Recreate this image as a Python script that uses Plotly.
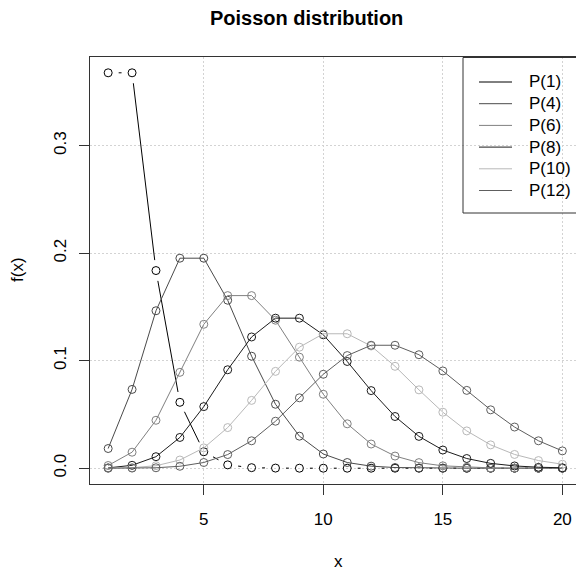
import math
import plotly.graph_objects as go

# ---------------- data ----------------
x_vals = list(range(1, 21))
series_names = ["P(1)", "P(4)", "P(6)", "P(8)", "P(10)", "P(12)"]
p1 = [0.3679, 0.3679, 0.1839, 0.0613, 0.0153, 0.0031, 0.0005, 0.0001, 0.0000, 0.0000,
      0.0000, 0.0000, 0.0000, 0.0000, 0.0000, 0.0000, 0.0000, 0.0000, 0.0000, 0.0000]
p4 = [0.0183, 0.0733, 0.1465, 0.1954, 0.1954, 0.1563, 0.1042, 0.0595, 0.0298, 0.0132,
      0.0053, 0.0019, 0.0006, 0.0002, 0.0001, 0.0000, 0.0000, 0.0000, 0.0000, 0.0000]
p6 = [0.0025, 0.0149, 0.0446, 0.0892, 0.1339, 0.1606, 0.1606, 0.1377, 0.1033, 0.0688,
      0.0413, 0.0225, 0.0113, 0.0052, 0.0022, 0.0009, 0.0003, 0.0001, 0.0000, 0.0000]
p8 = [0.0003, 0.0027, 0.0107, 0.0286, 0.0573, 0.0916, 0.1221, 0.1396, 0.1396, 0.1241,
      0.0993, 0.0722, 0.0481, 0.0296, 0.0169, 0.0090, 0.0045, 0.0021, 0.0009, 0.0004]
p10 = [0.0000, 0.0005, 0.0023, 0.0076, 0.0189, 0.0378, 0.0631, 0.0901, 0.1126, 0.1251,
       0.1251, 0.1137, 0.0948, 0.0729, 0.0521, 0.0347, 0.0217, 0.0128, 0.0071, 0.0037]
p12 = [0.0000, 0.0001, 0.0004, 0.0018, 0.0053, 0.0127, 0.0255, 0.0437, 0.0655, 0.0874,
       0.1048, 0.1144, 0.1144, 0.1056, 0.0905, 0.0724, 0.0543, 0.0383, 0.0255, 0.0161]
series_values = [p1, p4, p6, p8, p10, p12]
x_ticks = [5, 10, 15, 20]
y_ticks = [0.0, 0.1, 0.2, 0.3]
y_tick_labels = ["0.0", "0.1", "0.2", "0.3"]

# ---------------- styles ----------------
colors = ["#000000", "#4a4a4a", "#808080", "#1c1c1c", "#b8b8b8", "#5e5e5e"]
FONT = "Liberation Sans, Arial, Helvetica, sans-serif"
W, H = 576, 572
ML, MR, MT, MB = 90, 0, 57, 88
PW, PH = W - ML - MR, H - MT - MB
xr = [0.24, 20.57]
yr = [-0.0147, 0.3826]
kx = PW / (xr[1] - xr[0])
ky = PH / (yr[1] - yr[0])


def xp(px):
    return (px - ML) / PW


def yp(py):
    return (H - MB - py) / PH


fig = go.Figure()

# P(1): points with gapped connecting segments (R type="b")
gap = 10.5
sx, sy = [], []
for i in range(len(x_vals) - 1):
    dx = x_vals[i + 1] - x_vals[i]
    dy = p1[i + 1] - p1[i]
    L = math.hypot(dx * kx, dy * ky)
    if L > 2 * gap:
        t = gap / L
        sx += [x_vals[i] + dx * t, x_vals[i + 1] - dx * t, None]
        sy += [p1[i] + dy * t, p1[i + 1] - dy * t, None]
fig.add_trace(go.Scatter(x=sx, y=sy, mode="lines", line=dict(color=colors[0], width=1),
                         showlegend=False, hoverinfo="skip"))
fig.add_trace(go.Scatter(x=x_vals, y=p1, mode="markers", name=series_names[0],
                         marker=dict(symbol="circle-open", size=8, color=colors[0],
                                     line=dict(width=1, color=colors[0])),
                         showlegend=False))

# other series: lines through points (type="o")
for name, vals, col in zip(series_names[1:], series_values[1:], colors[1:]):
    fig.add_trace(go.Scatter(x=x_vals, y=vals, mode="lines+markers", name=name,
                             line=dict(color=col, width=1),
                             marker=dict(symbol="circle-open", size=8, color=col,
                                         line=dict(width=1, color=col)),
                             showlegend=False))

axis_common = dict(showline=True, linecolor="#333333", linewidth=1, mirror=True,
                   ticks="outside", ticklen=10, tickwidth=1, tickcolor="#333333",
                   showgrid=True, gridcolor="#d3d3d3", gridwidth=1, griddash="2px,2px",
                   zeroline=False, tickfont=dict(family=FONT, size=17, color="#000000"))

fig.update_xaxes(range=xr, tickvals=x_ticks, ticktext=[str(v) for v in x_ticks],
                 ticklabelstandoff=10, **axis_common)
fig.update_yaxes(range=yr, tickvals=y_ticks, ticktext=y_tick_labels, tickangle=-90,
                 ticklabelstandoff=6, **axis_common)

# manual legend (transparent box, line samples, labels)
shapes = [dict(type="rect", xref="paper", yref="paper", x0=xp(463), x1=xp(620),
               y0=yp(213), y1=yp(57.5), line=dict(color="#333333", width=1),
               fillcolor="rgba(0,0,0,0)", layer="above")]
annotations = []
row0, step = 82, 21.7
for i, (name, col) in enumerate(zip(series_names, colors)):
    yy = row0 + i * step
    shapes.append(dict(type="line", xref="paper", yref="paper", x0=xp(479), x1=xp(512),
                       y0=yp(yy), y1=yp(yy), line=dict(color=col, width=1)))
    annotations.append(dict(text=name, xref="paper", yref="paper", x=xp(527), y=yp(yy),
                            xanchor="left", yanchor="middle", showarrow=False,
                            font=dict(family=FONT, size=17, color="#000000")))

# titles
annotations.append(dict(text="<b>Poisson distribution</b>", xref="paper", yref="paper",
                        x=xp(306), y=yp(18), xanchor="center", yanchor="middle",
                        showarrow=False, font=dict(family=FONT, size=20, color="#000000")))
annotations.append(dict(text="x", xref="paper", yref="paper", x=xp(338), y=yp(561),
                        xanchor="center", yanchor="middle", showarrow=False,
                        font=dict(family=FONT, size=17, color="#000000")))
annotations.append(dict(text="f(x)", xref="paper", yref="paper", x=xp(17), y=yp(270),
                        xanchor="center", yanchor="middle", showarrow=False, textangle=-90,
                        font=dict(family=FONT, size=17, color="#000000")))

fig.update_layout(width=W, height=H, margin=dict(l=ML, r=MR, t=MT, b=MB, pad=0),
                  paper_bgcolor="white", plot_bgcolor="white", showlegend=False,
                  shapes=shapes, annotations=annotations,
                  font=dict(family=FONT, size=17, color="#000000"))

fig.write_html("out.html")
